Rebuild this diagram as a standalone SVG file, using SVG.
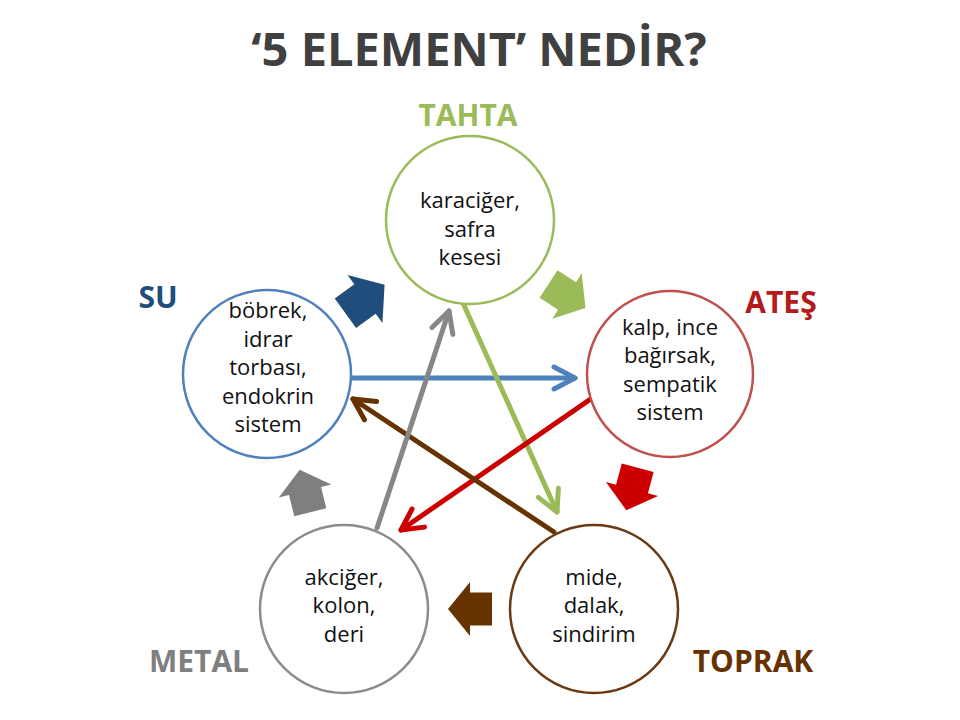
<svg xmlns="http://www.w3.org/2000/svg" width="960" height="720" viewBox="0 0 960 720">
<style>
.title{font-family:"Open Sans","Liberation Sans",sans-serif;font-weight:bold;font-size:47px;fill:#404040;text-anchor:middle}
.lbl{font-family:"Open Sans","Liberation Sans",sans-serif;font-weight:bold;font-size:30px;text-anchor:middle}
.body{font-family:"Open Sans","Liberation Sans",sans-serif;font-size:22px;fill:#111;text-anchor:middle}
.node{fill:#fff;stroke-width:2.5}
.conn{fill:none;stroke-width:5;stroke-linecap:round}
.head{fill:none;stroke-width:5;stroke-linecap:round;stroke-linejoin:round}
</style>
<defs>
<marker id="mBlue" markerUnits="userSpaceOnUse" orient="auto" refX="0" refY="0" markerWidth="40" markerHeight="40" overflow="visible"><path class="head" d="M-21,-11 L0,0 L-21,11" stroke="#4F81BD"/></marker>
<marker id="mGreen" markerUnits="userSpaceOnUse" orient="auto" refX="0" refY="0" markerWidth="40" markerHeight="40" overflow="visible"><path class="head" d="M-21,-11 L0,0 L-21,11" stroke="#9BBB59"/></marker>
<marker id="mRed" markerUnits="userSpaceOnUse" orient="auto" refX="0" refY="0" markerWidth="40" markerHeight="40" overflow="visible"><path class="head" d="M-21,-11 L0,0 L-21,11" stroke="#CC0000"/></marker>
<marker id="mBrown" markerUnits="userSpaceOnUse" orient="auto" refX="0" refY="0" markerWidth="40" markerHeight="40" overflow="visible"><path class="head" d="M-21,-11 L0,0 L-21,11" stroke="#663300"/></marker>
<marker id="mGray" markerUnits="userSpaceOnUse" orient="auto" refX="0" refY="0" markerWidth="40" markerHeight="40" overflow="visible"><path class="head" d="M-21,-11 L0,0 L-21,11" stroke="#878787"/></marker>
<polygon id="blk" points="22,0 0,-27 0,-16.5 -22,-16.5 -22,16.5 0,16.5 0,27"/>
</defs>
<rect width="960" height="720" fill="#fff"/>
<text class="title" x="479" y="66">‘5 ELEMENT’ NEDİR?</text>

<g id="connectors">
<line class="conn" x1="351" y1="378" x2="575" y2="378" stroke="#4F81BD" marker-end="url(#mBlue)"/>
<line class="conn" x1="463" y1="303" x2="557" y2="512" stroke="#9BBB59" marker-end="url(#mGreen)"/>
<line class="conn" x1="595" y1="396" x2="401" y2="530" stroke="#CC0000" marker-end="url(#mRed)"/>
<line class="conn" x1="554" y1="532" x2="353" y2="399" stroke="#663300" marker-end="url(#mBrown)"/>
<line class="conn" x1="377" y1="528" x2="449" y2="311" stroke="#878787" marker-end="url(#mGray)"/>
<use href="#blk" fill="#1F4E7D" transform="translate(365,299) rotate(-36) scale(1.1)"/>
<use href="#blk" fill="#9BBB59" transform="translate(567,296) rotate(33)"/>
<use href="#blk" fill="#CC0000" transform="translate(632,489) rotate(105)"/>
<use href="#blk" fill="#663300" transform="translate(470,609) rotate(180)"/>
<use href="#blk" fill="#7F7F7F" transform="translate(305,491) rotate(-104)"/>
</g>

<g id="tahta">
<circle class="node" cx="470" cy="220" r="84" stroke="#9BBB59"/>
<text class="body" x="470" y="208">karaciğer,</text>
<text class="body" x="470" y="237">safra</text>
<text class="body" x="470" y="265">kesesi</text>
<text class="lbl" x="468" y="126" fill="#9BBB59">TAHTA</text>
</g>
<g id="su">
<circle class="node" cx="267" cy="374" r="84" stroke="#4F81BD"/>
<text class="body" x="268" y="318">böbrek,</text>
<text class="body" x="268" y="347">idrar</text>
<text class="body" x="268" y="375">torbası,</text>
<text class="body" x="268" y="404">endokrin</text>
<text class="body" x="268" y="432">sistem</text>
<text class="lbl" x="158" y="308" fill="#1F4E7D">SU</text>
</g>
<g id="ates">
<circle class="node" cx="670" cy="374" r="83" stroke="#C0504D"/>
<text class="body" x="670" y="335">kalp, ince</text>
<text class="body" x="670" y="363">bağırsak,</text>
<text class="body" x="670" y="392">sempatik</text>
<text class="body" x="670" y="420">sistem</text>
<text class="lbl" x="781" y="313" fill="#B31B1B">ATEŞ</text>
</g>
<g id="metal">
<circle class="node" cx="344" cy="609" r="84" stroke="#8C8C8C"/>
<text class="body" x="344" y="585">akciğer,</text>
<text class="body" x="344" y="613">kolon,</text>
<text class="body" x="344" y="642">deri</text>
<text class="lbl" x="199" y="672" fill="#7F7F7F">METAL</text>
</g>
<g id="toprak">
<circle class="node" cx="594" cy="609" r="84" stroke="#6B3A12"/>
<text class="body" x="594" y="585">mide,</text>
<text class="body" x="594" y="613">dalak,</text>
<text class="body" x="594" y="642">sindirim</text>
<text class="lbl" x="753" y="672" fill="#663300">TOPRAK</text>
</g>
</svg>
